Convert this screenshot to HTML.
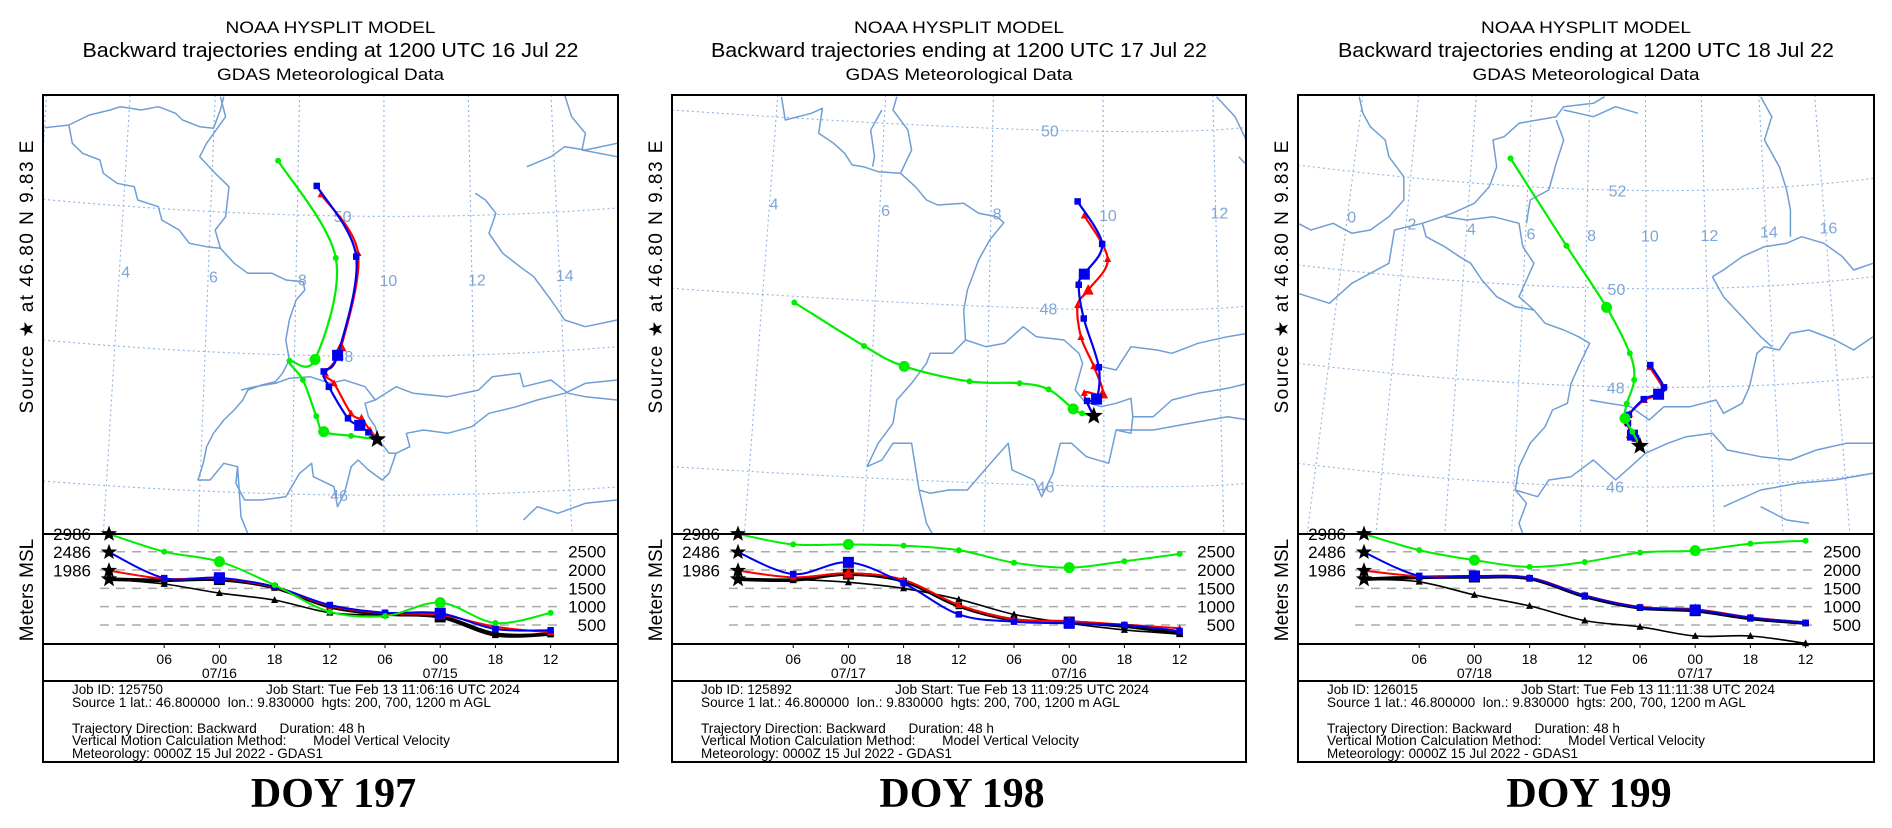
<!DOCTYPE html>
<html><head><meta charset="utf-8"><style>
html,body{margin:0;padding:0;background:#fff;}
svg{display:block;font-family:"Liberation Sans",sans-serif;}
.pre{white-space:pre;}
</style></head><body>
<svg id="root" xmlns="http://www.w3.org/2000/svg" width="1892" height="828" viewBox="0 0 1892 828">
<defs>
<clipPath id="c0"><rect x="43" y="95" width="575" height="439"/></clipPath>
<clipPath id="c1"><rect x="672" y="95" width="574" height="439"/></clipPath>
<clipPath id="c2"><rect x="1298" y="95" width="576" height="439"/></clipPath>
</defs>
</svg>
<script>
// ---------- data ----------
const timeLabels = ['06','00','18','12','06','00','18','12'];
const dateLabels0 = ['07/16','07/15'];
const dateLabels1 = ['07/17','07/16'];
const dateLabels2 = ['07/18','07/17'];
const titleDates = ['16 Jul 22','17 Jul 22','18 Jul 22'];
const doyLabels = ['DOY 197','DOY 198','DOY 199'];
const jobIds = ['125750','125892','126015'];
const jobStarts = ['11:06:16','11:09:25','11:11:38'];
const heightTicks = [2500,2000,1500,1000,500];
const startLabels = [2986,2486,1986];

// trajectory lon/lat (index 0 = source, then 6-hourly backward)
const p0_green_lon = [9.83,9.23,8.60,8.43,8.12,7.81,8.40,8.88,7.55];
const p0_green_lat = [46.80,46.85,46.91,47.13,47.65,47.92,47.94,49.39,50.78];
const p0_blue_lon = [9.83,9.63,9.43,9.16,8.72,8.60,8.92,9.35,8.44];
const p0_blue_lat = [46.80,46.90,47.00,47.10,47.55,47.77,48.00,49.41,50.42];
const p0_red_lon = [9.83,9.67,9.47,9.23,8.84,8.64,9.00,9.39,8.54];
const p0_red_lat = [46.80,46.93,47.08,47.17,47.60,47.74,48.12,49.46,50.30];

const p1_green_lon = [9.83,9.62,9.46,9.02,8.50,7.60,6.43,5.71,4.46];
const p1_green_lat = [46.80,46.83,46.88,47.10,47.17,47.19,47.36,47.59,48.08];
const p1_blue_lon = [9.83,9.71,9.88,9.92,9.65,9.56,9.66,9.98,9.54];
const p1_blue_lat = [46.80,46.97,46.99,47.35,47.90,48.28,48.40,48.74,49.22];
const p1_red_lon = [9.83,9.66,9.99,9.83,9.60,9.54,9.73,10.08,9.66];
const p1_red_lat = [46.80,47.06,47.05,47.36,47.69,48.05,48.22,48.57,49.06];

const p2_green_lon = [9.83,9.58,9.33,9.39,9.64,9.49,8.71,7.36,5.48];
const p2_green_lat = [46.80,47.09,47.36,47.66,48.14,48.68,49.61,50.86,52.63];
const p2_blue_lon = [9.83,9.70,9.58,9.43,9.46,9.96,10.46,10.64,10.18];
const p2_blue_lat = [46.80,46.96,47.02,47.26,47.43,47.75,47.85,47.99,48.44];
const p2_red_lon = [9.83,9.66,9.54,9.40,9.48,9.98,10.44,10.60,10.16];
const p2_red_lat = [46.80,46.94,47.05,47.28,47.45,47.73,47.83,47.97,48.40];

// heights (m MSL)
const p0_green_h = [2986,2500,2230,1590,860,745,1110,555,830];
const p0_blue_h = [2486,1780,1790,1545,1045,835,820,390,355];
const p0_red_h = [1986,1760,1770,1530,1020,820,780,450,300];
const p0_black_h = [1750,1720,1740,1520,1000,800,720,230,250];
const p0_black2_h = [1750,1620,1370,1180,835,770,760,280,260];

const p1_green_h = [2986,2700,2700,2665,2540,2200,2065,2240,2440];
const p1_blue_h = [2486,1890,2210,1640,790,590,545,500,335];
const p1_red_h = [1986,1800,1910,1730,1045,655,600,510,410];
const p1_black_h = [1750,1730,1890,1700,1020,640,580,470,270];
const p1_black2_h = [1750,1740,1665,1500,1200,790,545,365,250];

const p2_green_h = [2986,2543,2270,2085,2220,2475,2530,2720,2800];
const p2_blue_h = [2486,1840,1840,1780,1300,980,910,700,560];
const p2_red_h = [1986,1830,1830,1790,1310,990,930,710,560];
const p2_black_h = [1750,1800,1810,1770,1280,970,890,680,550];
const p2_black2_h = [1750,1680,1320,1020,620,450,200,200,0];

// ---------- background map geometry (zoom-space) ----------
const B0 = [
[130,383,200,375,260,345,320,330,350,320,410,330,460,320,510,340,530,360,580,380,620,385,640,330,650,290],
[200,375,210,430,240,460,290,480,300,520,340,550,390,560,400,600,460,620,470,660,520,690,550,730,600,740,640,745,680,790,720,820,790,820,830,840,880,845,885,870,860,900,840,960,830,1020,840,1080,820,1120,800,1145,760,1155,720,1170,705,1200,680,1230,650,1260,620,1300,600,1340,590,1390,575,1440,610,1440,650,1390,690,1400,685,1450,710,1500,760,1500,830,1490,870,1420,905,1390,910,1430,970,1460,980,1520,1000,1480,1020,1400,1040,1380,1070,1410,1110,1440,1130,1420,1150,1360,1190,1340,1180,1300,1230,1290,1300,1300,1370,1280,1420,1240,1500,1220,1560,1200,1640,1180,1700,1150,1792,1140],
[640,290,655,350,600,430,580,470,625,520,665,560,655,650,625,690,640,745],
[700,1170,740,1160,800,1150,840,1135,900,1130,960,1150,1000,1140,1060,1160,1090,1200,1060,1210,1070,1250,1090,1280,1100,1320,1130,1360,1150,1360],
[1090,1200,1150,1160,1200,1180,1300,1190,1390,1170,1430,1130,1510,1120,1520,1160,1600,1140,1650,1180,1700,1190,1792,1200],
[1380,580,1410,600,1440,640,1420,700,1460,760,1510,800,1550,830,1600,900,1640,960,1700,980,1792,960],
[1530,500,1600,470,1640,440,1700,450,1792,430],
[690,1400,700,1550,720,1602],
[1640,285,1660,350,1700,400,1690,450,1792,470],
[1520,1560,1560,1520,1620,1540,1700,1510,1792,1500]
];
const G0m = [[378,285,300,1602],[625,285,575,1602],[870,285,845,1602],[1115,285,1115,1602],[1360,285,1385,1602],[1600,285,1661,1602],[135,285,60,1602]];
const G0p = [[125,598,1000,648,1792,624],[125,1020,1000,1068,1792,1040],[125,1443,1000,1485,1792,1461]];
const L0 = [['4',365,815],['6',620,830],['8',878,838],['10',1128,840],['12',1385,838],['14',1640,825],['50',995,648],['48',1000,1068],['46',985,1485]];

const B1 = [
[300,20,310,90,380,70,410,55,400,130,440,160,470,190,490,225,520,230,560,245,620,250,660,290,690,330,720,345,790,340,830,370,880,380,898,398,860,450,830,510,800,600,790,660,795,750,760,790,700,790,690,820,650,880,610,930,600,1000,560,1060,530,1130],
[570,60,540,120,550,200,545,230],[620,250,650,180,640,120,600,60,610,20],
[795,750,850,770,900,760,950,710,985,740,1060,750,1100,790,1110,820,1090,900,1115,935,1160,950,1200,940,1240,925,1245,980,1300,980,1350,930,1420,910,1500,895,1555,880],
[1160,830,1200,840,1240,770,1310,780,1350,790,1420,760,1500,740,1555,730],
[530,1130,570,1110,600,1060,650,1060,670,1200,700,1210,750,1200,800,1200,870,1110,910,1060,920,1140,980,1170,1000,1220,1030,1150,1050,1060,1080,1060,1120,1100,1180,1120,1200,1020,1240,1030,1245,980],
[670,1200,690,1300,710,1340],[1200,1020,1300,1020,1400,1000,1500,980,1555,990],
[1470,20,1520,80,1550,150],[1530,200,1555,230]
];
const G1m = [[290,15,200,1332],[580,15,520,1332],[870,15,845,1332],[1165,15,1168,1332],[1460,15,1490,1332]];
const G1p = [[5,60,1000,120,1552,112],[5,595,1000,655,1552,648],[5,1130,1000,1185,1552,1180]];
const L1 = [['4',280,340],['6',580,360],['8',880,370],['10',1178,375],['12',1478,368],['50',1022,122],['48',1018,655],['46',1010,1190]];

const B2 = [
[170,20,180,70,200,110,240,150,250,200,290,260,290,330,250,380,200,420,150,430,100,400,40,420,5,400],
[5,610,90,640,150,580,250,520,265,420,340,400,420,370,480,340,520,290,540,230,530,150,560,140,600,100,700,80,720,50,800,40,830,20],
[720,60,800,80,860,50,920,70],
[340,400,350,440,400,470,440,500,470,520,500,570,540,620,590,650,640,660,670,700,720,720,760,740,790,760,760,830,740,880,730,940,690,960,670,1010,630,1060,600,1130,590,1200,620,1240,600,1300,610,1332],
[400,380,460,390,530,380,600,400,610,470,640,520,620,570,600,620,640,660],
[700,90,720,150,700,220,680,300,630,330,620,400],
[790,930,840,940,900,950,950,990,990,950,1060,950,1130,930,1150,970,1200,940,1220,890,1240,790,1260,770,1300,780,1330,730,1380,720,1450,750,1500,780,1552,740],
[1120,560,1150,540,1200,500,1260,470,1320,460,1360,440,1420,460,1470,500,1500,540,1552,520],
[1120,560,1150,620,1200,680,1250,740,1280,770],
[1250,20,1280,80,1260,150,1300,230,1320,300,1330,360,1330,440],
[590,1200,650,1220,680,1170,740,1160,800,1110,860,1170,900,1130,940,1090,1000,1060,1050,1040,1120,1030,1160,1080,1250,1100,1330,1110,1400,1080,1480,1060,1552,1060],
[1150,1250,1250,1200,1350,1180,1450,1170,1552,1150],[1250,1250,1320,1290,1380,1300]
];
const G2m = [[180,15,30,1332],[330,15,215,1332],[485,15,400,1332],[635,15,580,1332],[790,15,765,1332],[940,15,945,1332],[1090,15,1125,1332],[1245,15,1310,1332],[1395,15,1490,1332]];
const G2p = [[5,225,850,300,1552,265],[5,525,850,595,1552,560],[5,820,850,890,1552,860],[5,1120,850,1190,1552,1150]];
const L2 = [['0',150,380],['2',312,400],['4',472,415],['6',632,430],['8',795,435],['10',952,437],['12',1112,435],['14',1272,425],['16',1432,412],['52',865,302],['50',862,597],['48',860,892],['46',858,1190]];

// ---------- helpers ----------
const NS='http://www.w3.org/2000/svg';
const root=document.getElementById('root');
function mk(tag,attrs,parent){const e=document.createElementNS(NS,tag);for(const k in attrs)e.setAttribute(k,attrs[k]);(parent||root).appendChild(e);return e;}
function smooth(pts){
  if(pts.length<2)return '';
  let d='M'+pts[0][0].toFixed(1)+','+pts[0][1].toFixed(1);
  for(let i=0;i<pts.length-1;i++){
    const p0=pts[i-1]||pts[i],p1=pts[i],p2=pts[i+1],p3=pts[i+2]||p2;
    const c1=[p1[0]+(p2[0]-p0[0])/6,p1[1]+(p2[1]-p0[1])/6];
    const c2=[p2[0]-(p3[0]-p1[0])/6,p2[1]-(p3[1]-p1[1])/6];
    d+='C'+c1[0].toFixed(1)+','+c1[1].toFixed(1)+' '+c2[0].toFixed(1)+','+c2[1].toFixed(1)+' '+p2[0].toFixed(1)+','+p2[1].toFixed(1);
  }
  return d;
}
function starPath(cx,cy,r){let d='';for(let i=0;i<10;i++){const a=-Math.PI/2+i*Math.PI/5;const rr=i%2?r*0.42:r;d+=(i?'L':'M')+(cx+rr*Math.cos(a)).toFixed(1)+','+(cy+rr*Math.sin(a)).toFixed(1);}return d+'Z';}
function marker(g,type,x,y,big,color){
  let e;
  if(type==='circle'){e=mk('circle',{cx:x,cy:y,r:big?5.5:3,fill:color},g);}
  else if(type==='square'){const s=big?11:6.5;e=mk('rect',{x:x-s/2,y:y-s/2,width:s,height:s,fill:color},g);}
  else {const s=big?10:6.5;e=mk('path',{d:`M${x},${y-s*0.6}L${x+s*0.55},${y+s*0.45}L${x-s*0.55},${y+s*0.45}Z`,fill:color},g);}
  
  
}

const panels=[
 {left:43,w:575,clip:'c0',ox:0,oy:0,sx:2.904,sy:3,X0:1095,Y0:1318,kx:126,ky:210,B:B0,Gm:G0m,Gp:G0p,L:L0,
  tr:[[p0_green_lon,p0_green_lat],[p0_blue_lon,p0_blue_lat],[p0_red_lon,p0_red_lat]],
  h:[p0_green_h,p0_blue_h,p0_red_h,p0_black_h,p0_black2_h],dates:dateLabels0},
 {left:672,w:574,clip:'c1',ox:670,oy:90,sx:2.69,sy:3,X0:1140,Y0:978,kx:150,ky:266,B:B1,Gm:G1m,Gp:G1p,L:L1,
  tr:[[p1_green_lon,p1_green_lat],[p1_blue_lon,p1_blue_lat],[p1_red_lon,p1_red_lat]],
  h:[p1_green_h,p1_blue_h,p1_red_h,p1_black_h,p1_black2_h],dates:dateLabels1},
 {left:1298,w:576,clip:'c2',ox:1296,oy:90,sx:2.69,sy:3,X0:925,Y0:1068,kx:80,ky:148,B:B2,Gm:G2m,Gp:G2p,L:L2,
  tr:[[p2_green_lon,p2_green_lat],[p2_blue_lon,p2_blue_lat],[p2_red_lon,p2_red_lat]],
  h:[p2_green_h,p2_blue_h,p2_red_h,p2_black_h,p2_black2_h],dates:dateLabels2}
];
const mapTop=95,mapBot=534,hBot=644,tBot=681,iBot=762;
function yH(h){return 643.3-h*0.03663;}

panels.forEach((P,pi)=>{
  const L=P.left,R=P.left+P.w,cx=L+P.w/2;
  const Z=(X,Y)=>[P.ox+X/P.sx,P.oy+Y/P.sy];
  const proj=(lon,lat)=>Z(P.X0+(lon-9.83)*P.kx,P.Y0-(lat-46.8)*P.ky);
  const xT=i=>L+66+i*55.2;
  const pg=mk('g',{});
  
  

  const t1=mk('text',{x:cx,y:33,'text-anchor':'middle','font-size':17,textLength:210,lengthAdjust:'spacingAndGlyphs'},pg);t1.textContent='NOAA HYSPLIT MODEL';
  
  const t2=mk('text',{x:cx,y:57,'text-anchor':'middle','font-size':20,textLength:496,lengthAdjust:'spacingAndGlyphs'},pg);t2.textContent='Backward trajectories ending at 1200 UTC '+titleDates[pi];
  
  const t3=mk('text',{x:cx,y:80,'text-anchor':'middle','font-size':17,textLength:227,lengthAdjust:'spacingAndGlyphs'},pg);t3.textContent='GDAS Meteorological Data';
  

  const mg=mk('g',{'clip-path':'url(#'+P.clip+')'},pg);
  
  P.Gm.forEach(m=>{const a=Z(m[0],m[1]),b=Z(m[2],m[3]);const e=mk('line',{x1:a[0],y1:a[1],x2:b[0],y2:b[1],stroke:'#8db3e2','stroke-width':1.1,'stroke-dasharray':'2 3'},mg);
    });
  P.Gp.forEach(p=>{const a=Z(p[0],p[1]),m=Z(p[2],p[3]),b=Z(p[4],p[5]);const c=[2*m[0]-(a[0]+b[0])/2,2*m[1]-(a[1]+b[1])/2];
    const e=mk('path',{d:`M${a[0]},${a[1]}Q${c[0]},${c[1]} ${b[0]},${b[1]}`,fill:'none',stroke:'#8db3e2','stroke-width':1.1,'stroke-dasharray':'2 3'},mg);
    });
  P.B.forEach(b=>{let d='';for(let i=0;i<b.length;i+=2){const q=Z(b[i],b[i+1]);d+=(i?'L':'M')+q[0].toFixed(1)+','+q[1].toFixed(1);}
    const e=mk('path',{d:d,fill:'none',stroke:'#6f9ed6','stroke-width':1.5,'stroke-linejoin':'round'},mg);
    });
  P.L.forEach(l=>{const q=Z(l[1],l[2]);const e=mk('text',{x:q[0],y:q[1]+6,'text-anchor':'middle','font-size':16,fill:'#7ea5d6'},mg);e.textContent=l[0];
    });
  const colors=['#00ee00','#0000ee','#ff0000'];const types=['circle','square','triangle'];
  [2,1,0].forEach(k=>{const lon=P.tr[k][0],lat=P.tr[k][1];const pts=lon.map((v,i)=>proj(v,lat[i]));
    const e=mk('path',{d:smooth(pts),fill:'none',stroke:colors[k],'stroke-width':2.2},mg);
    
    pts.forEach((p,i)=>{if(i>0)marker(mg,types[k],p[0],p[1],i===2||i===6,colors[k]);});});
  const sp=proj(9.83,46.8);
  const st=mk('path',{d:starPath(sp[0],sp[1],8),fill:'#000',stroke:'#000','stroke-width':1},mg);
  

  const sl=mk('text',{x:0,y:0,'font-size':19,'text-anchor':'middle',transform:`translate(${L-10},277) rotate(-90)`,textLength:273,lengthAdjust:'spacing'},pg);
  sl.textContent='Source \u2605  at  46.80 N  9.83 E';
  
  const ml=mk('text',{x:0,y:0,'font-size':19,'text-anchor':'middle',transform:`translate(${L-10},590) rotate(-90)`},pg);
  ml.textContent='Meters MSL';
  

  const hg=mk('g',{},pg);
  heightTicks.forEach(v=>{const y=yH(v);
    const e=mk('line',{x1:L+57,x2:L+515,y1:y,y2:y,stroke:'#aaaaaa','stroke-width':1.5,'stroke-dasharray':'9 7'},hg);
    
    const t=mk('text',{x:L+563,y:y+6,'text-anchor':'end','font-size':17},hg);t.textContent=v;
    });
  startLabels.forEach(v=>{const t=mk('text',{x:L+48,y:yH(v)+6,'text-anchor':'end','font-size':17},hg);t.textContent=v;
    });
  const hc=['#00ee00','#0000ee','#ff0000','#000','#000'];const hw=[2,2,2,3.6,1.6];const ht=['circle','square','triangle','square','triangle'];
  const hn=['green','blue','red','black-thick','black-thin'];
  [4,3,2,1,0].forEach(k=>{const arr=P.h[k];const pts=arr.map((v,i)=>[xT(i),yH(v)]);
    const e=mk('path',{d:smooth(pts),fill:'none',stroke:hc[k],'stroke-width':hw[k]},hg);
    
    pts.forEach((p,i)=>{if(i>0)marker(hg,ht[k],p[0],p[1],(i===2||i===6)&&k<4,hc[k]);});
    const s=mk('path',{d:starPath(pts[0][0],pts[0][1],7),fill:'#000',stroke:'#000','stroke-width':1},hg);
    });

  [[mapTop,mapBot],[mapBot,hBot],[hBot,tBot],[tBot,iBot]].forEach((r,j)=>{const e=mk('rect',{x:L,y:r[0],width:P.w,height:r[1]-r[0],fill:'none',stroke:'#000','stroke-width':2},pg);
    });

  timeLabels.forEach((lab,i)=>{const x=xT(i+1);
    mk('line',{x1:x,x2:x,y1:hBot,y2:hBot+4,stroke:'#000','stroke-width':1},pg);
    const t=mk('text',{x:x,y:664,'text-anchor':'middle','font-size':14},pg);t.textContent=lab;
    });
  P.dates.forEach((d,j)=>{const t=mk('text',{x:xT(j?6:2),y:678,'text-anchor':'middle','font-size':14},pg);t.textContent=d;
    });

  const info=[
    ['Job ID: '+jobIds[pi],29,694,91],
    ['Job Start: Tue Feb 13 '+jobStarts[pi]+' UTC 2024',223,694,254],
    ['Source 1 lat.: 46.800000  lon.: 9.830000  hgts: 200, 700, 1200 m AGL',29,707,419],
    ['Trajectory Direction: Backward      Duration: 48 h',29,733,293],
    ['Vertical Motion Calculation Method:       Model Vertical Velocity',29,745,378],
    ['Meteorology: 0000Z 15 Jul 2022 - GDAS1',29,758,251]];
  info.forEach(r=>{const t=mk('text',{x:L+r[1],y:r[2],'font-size':14,textLength:r[3],lengthAdjust:'spacingAndGlyphs',class:'pre','font-family':'"Liberation Sans Narrow","Liberation Sans",sans-serif'},pg);
    t.textContent=r[0];});

  const dy=mk('text',{x:cx+3,y:807,'text-anchor':'middle','font-size':42,'font-weight':'bold','font-family':'"Liberation Serif",serif'},pg);
  dy.textContent=doyLabels[pi];
});
</script>
</body></html>
